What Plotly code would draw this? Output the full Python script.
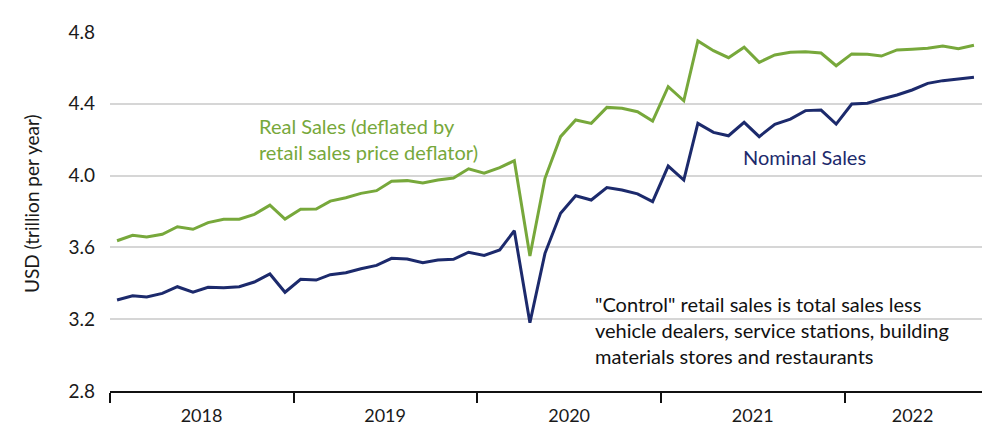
import plotly.graph_objects as go
import pandas as pd

months = [d.strftime("%Y-%m-%d") for d in pd.date_range("2018-01-01", periods=57, freq="MS")]
month_mid = [m[:8] + "15" for m in months]

real_sales = [
    3.637, 3.667, 3.658, 3.673, 3.715, 3.701, 3.738, 3.757, 3.757, 3.784, 3.835, 3.758,
    3.813, 3.814, 3.858, 3.877, 3.901, 3.916, 3.968, 3.972, 3.959, 3.976, 3.987, 4.038,
    4.013, 4.044, 4.083, 3.552, 3.985, 4.217, 4.310, 4.291, 4.380, 4.375, 4.356, 4.304,
    4.495, 4.417, 4.750, 4.696, 4.657, 4.715, 4.631, 4.672, 4.687, 4.690, 4.683, 4.612,
    4.678, 4.676, 4.666, 4.700, 4.704, 4.709, 4.722, 4.707, 4.726,
]
nominal_sales = [
    3.307, 3.331, 3.324, 3.344, 3.381, 3.351, 3.378, 3.375, 3.381, 3.407, 3.452, 3.350,
    3.422, 3.418, 3.448, 3.459, 3.481, 3.500, 3.539, 3.535, 3.515, 3.530, 3.534, 3.573,
    3.555, 3.586, 3.693, 3.180, 3.567, 3.790, 3.888, 3.864, 3.933, 3.920, 3.898, 3.855,
    4.053, 3.975, 4.291, 4.241, 4.222, 4.297, 4.217, 4.286, 4.315, 4.362, 4.365, 4.287,
    4.399, 4.403, 4.427, 4.449, 4.477, 4.514, 4.529, 4.538, 4.548,
]

year_labels = ["2018", "2019", "2020", "2021", "2022"]
year_label_pos = ["2018-07-02", "2019-07-02", "2020-07-02", "2021-07-02", "2022-05-16"]
y_ticks = [2.8, 3.2, 3.6, 4.0, 4.4, 4.8]

GREEN = "#77A83B"
NAVY = "#1C2A6C"
FONT = "Lato"
TXT = "#1a1a1a"

# page body has an 8px margin; compensate so plot area lands at x 110-982, y 32-391
OFF = 8
L, R, T, B = 110, 982, 32, 391

fig = go.Figure()
fig.add_trace(go.Scatter(x=month_mid, y=real_sales, mode="lines",
                         line=dict(color=GREEN, width=3), name="Real Sales"))
fig.add_trace(go.Scatter(x=month_mid, y=nominal_sales, mode="lines",
                         line=dict(color=NAVY, width=3), name="Nominal Sales"))

fig.update_layout(
    width=1000, height=440,
    margin=dict(l=L - OFF, r=1000 + OFF - R, t=T - OFF, b=440 + OFF - B),
    paper_bgcolor="white", plot_bgcolor="white",
    showlegend=False,
    font=dict(family=FONT, size=18, color=TXT),
    xaxis=dict(
        range=["2018-01-01", "2022-10-01"],
        tickmode="array", tickvals=year_label_pos, ticktext=year_labels,
        ticks="", showgrid=False, zeroline=False,
        showline=True, linecolor="#111111", linewidth=2,
        ticklabelstandoff=7,
        tickfont=dict(size=18, family=FONT, color=TXT),
        minor=dict(ticks="outside", tick0="2018-01-01", dtick="M12",
                   ticklen=10, tickwidth=2, tickcolor="#111111", showgrid=False),
    ),
    yaxis=dict(
        range=[2.8, 4.8], tickvals=y_ticks,
        ticktext=[f"{v:.1f}" for v in y_ticks],
        showgrid=True, gridcolor="#D6D6D6", gridwidth=1.5,
        zeroline=False, showline=False, ticks="",
        ticklabelstandoff=14,
        tickfont=dict(size=19, family=FONT, color=TXT),
    ),
)

def px_x(p):
    return (p - L) / (R - L)

def px_y(p):
    return (B - p) / (B - T)

fig.add_annotation(xref="paper", yref="paper", x=px_x(31), y=px_y(204),
                   xanchor="center", yanchor="middle", textangle=-90, showarrow=False,
                   text="USD (trillion per year)",
                   font=dict(family=FONT, size=19, color=TXT))
fig.add_annotation(xref="paper", yref="paper", x=px_x(257), y=px_y(139),
                   xanchor="left", yanchor="middle", align="left", showarrow=False,
                   text="Real Sales (deflated by<br>retail sales price deflator)",
                   font=dict(family=FONT, size=20, color=GREEN))
fig.add_annotation(xref="paper", yref="paper", x=px_x(741), y=px_y(157),
                   xanchor="left", yanchor="middle", align="left", showarrow=False,
                   text="Nominal Sales",
                   font=dict(family=FONT, size=20, color=NAVY))
fig.add_annotation(xref="paper", yref="paper", x=px_x(593), y=px_y(330),
                   xanchor="left", yanchor="middle", align="left", showarrow=False,
                   text='"Control" retail sales is total sales less<br>vehicle dealers, service stations, building<br>materials stores and restaurants',
                   font=dict(family=FONT, size=20, color="#111111"))

fig.write_html("out.html")
